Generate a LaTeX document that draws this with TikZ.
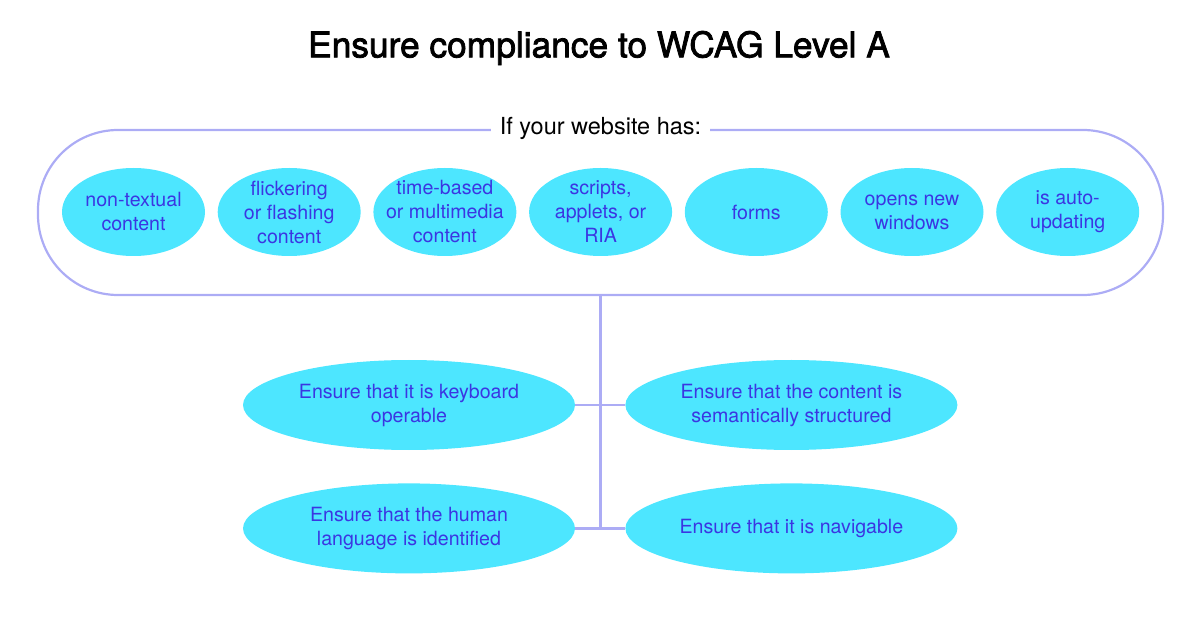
\documentclass[tikz,border=0pt]{standalone}
\usepackage{fontspec}
\setmainfont{TeX Gyre Heros}
\newfontfamily\headfont[FakeBold=2.2]{TeX Gyre Heros}
\usetikzlibrary{shapes.geometric, positioning}
\definecolor{bubble}{HTML}{4DE6FF}
\definecolor{ink}{HTML}{3B36E2}
\definecolor{frame}{HTML}{ACACF5}

\begin{document}
\begin{tikzpicture}[x=1pt, y=1pt, node distance=12.3pt,
    item/.style={ellipse, fill=bubble, text=ink, inner xsep=-20pt, inner ysep=-14pt, minimum width=143pt, minimum height=88pt, align=center, font=\fontsize{19.6}{24}\selectfont},
    goal/.style={item, minimum width=332pt, minimum height=90pt},
    link/.style={draw=frame, line width=2.2pt}]
    \useasboundingbox (0,0) rectangle (1200,630);

    % Title
    \node (title) at (599,582) {\headfont\fontsize{35.3}{40}\selectfont Ensure compliance to WCAG Level A};

    % Frame around the website features
    \node[link, rounded corners=80pt, minimum width=1125pt, minimum height=165pt] (group) at (600.5,417.5) {};
    \node[fill=white, inner xsep=9pt, font=\fontsize{23.5}{26}\selectfont] (label) at (group.north) {If your website has:};

    % Website features
    \node[item] (nontext) at (133.5,418) {non-textual\\content};
    \node[item, right=of nontext] (flicker) {flickering\\or flashing\\content};
    \node[item, right=of flicker] (media) {time-based\\or multimedia\\content};
    \node[item, right=of media] (scripts) {scripts,\\applets, or\\RIA};
    \node[item, right=of scripts] (forms) {forms};
    \node[item, right=of forms] (windows) {opens new\\windows};
    \node[item, right=of windows] (updating) {is auto-\\updating};

    % Requirements
    \node[goal] (keyboard) at (409,225) {Ensure that it is keyboard\\operable};
    \node[goal, right=50pt of keyboard] (semantic) {Ensure that the content is\\semantically structured};
    \node[goal, below=33pt of keyboard] (language) {Ensure that the human\\language is identified};
    \node[goal, right=50pt of language] (navig) {Ensure that it is navigable};

    % Connectors
    \draw[link] (group.south) -- (group.south |- language.east);
    \draw[link] (keyboard.east) -- (semantic.west);
    \draw[link] (language.east) -- (navig.west);
\end{tikzpicture}
\end{document}
